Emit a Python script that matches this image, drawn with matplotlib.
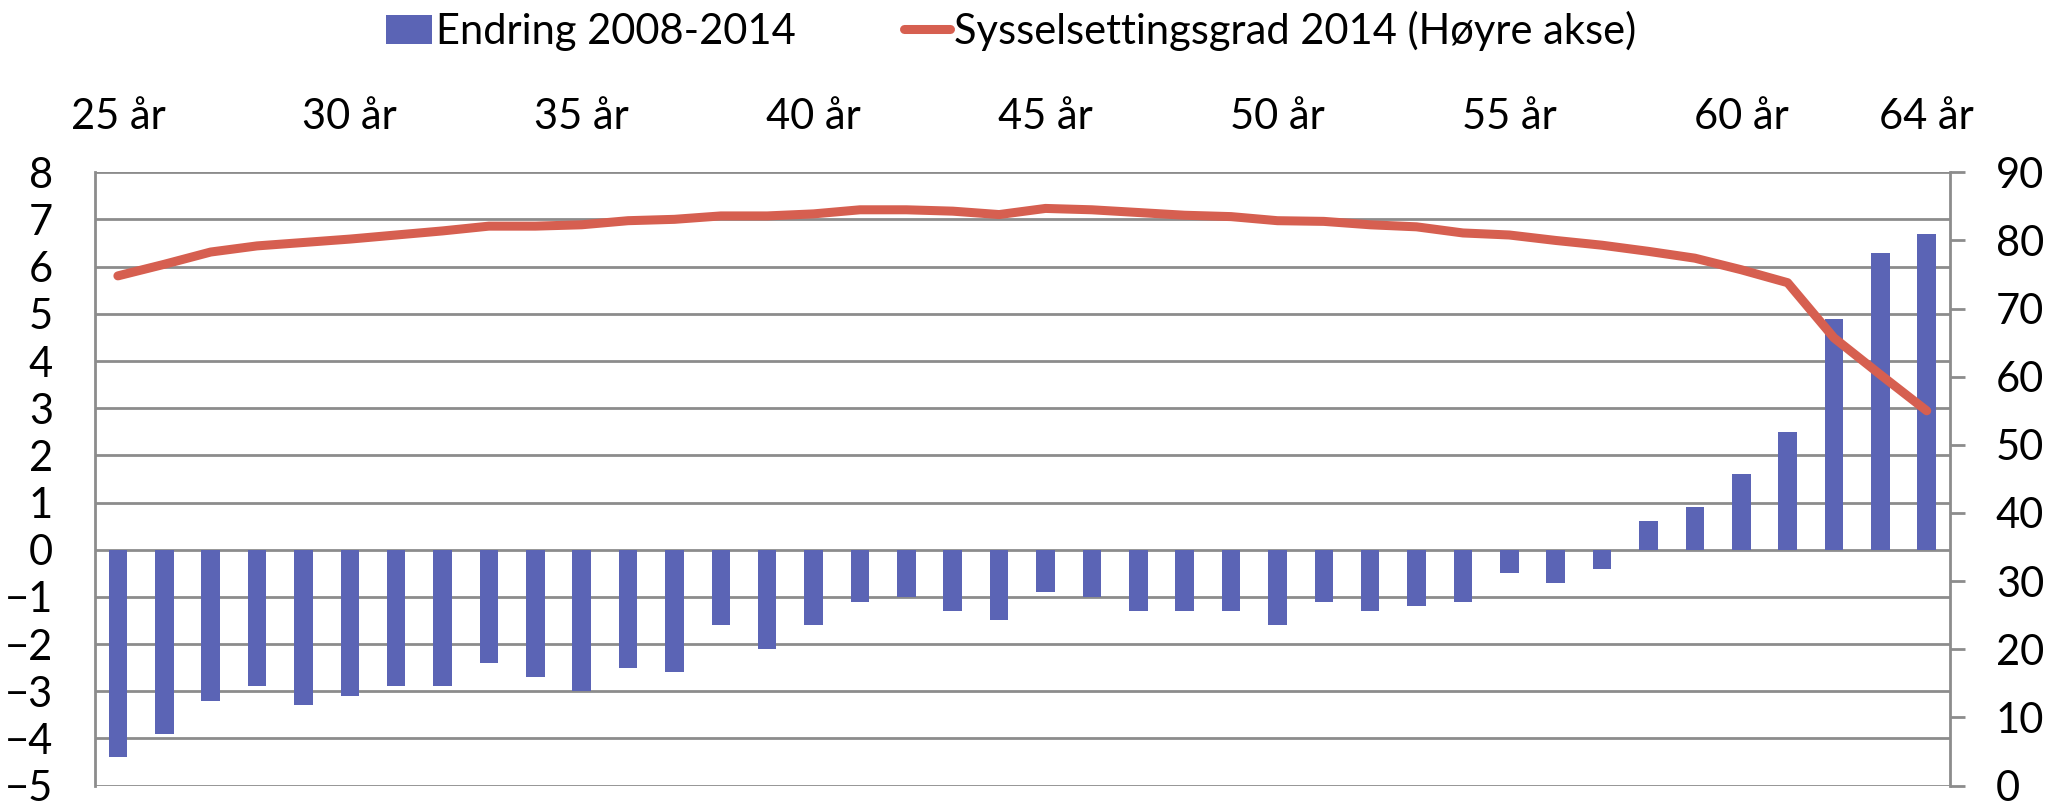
import matplotlib
matplotlib.use("Agg")
import matplotlib.pyplot as plt
import numpy as np

plt.rcParams['font.family'] = ['Lato', 'DejaVu Sans']

ages = list(range(25, 65))
endring = [-4.4, -3.9, -3.2, -2.9, -3.3, -3.1, -2.9, -2.9, -2.4, -2.7,
           -3.0, -2.5, -2.6, -1.6, -2.1, -1.6, -1.1, -1.0, -1.3, -1.5,
           -0.9, -1.0, -1.3, -1.3, -1.3, -1.6, -1.1, -1.3, -1.2, -1.1,
           -0.5, -0.7, -0.4, 0.6, 0.9, 1.6, 2.5, 4.9, 6.3, 6.7]
sysselsetting = [74.8, 76.5, 78.3, 79.2, 79.7, 80.2, 80.8, 81.4, 82.1, 82.1,
                 82.3, 82.9, 83.1, 83.6, 83.6, 83.9, 84.5, 84.5, 84.3, 83.8,
                 84.7, 84.5, 84.1, 83.7, 83.5, 82.9, 82.8, 82.3, 82.0, 81.1,
                 80.8, 80.0, 79.3, 78.4, 77.4, 75.7, 73.8, 65.7, 60.3, 55.0]
label_ages = [25, 30, 35, 40, 45, 50, 55, 60, 64]
tick_labels = [f"{a} år" for a in label_ages]

bar_color = '#5B64B5'
line_color = '#D65F50'
grid_color = '#8C8C8C'
fs = 30

fig = plt.figure(figsize=(20.63, 8.09), dpi=100)
ax = fig.add_axes([0.0459, 0.029, 0.8993, 0.758])
x = np.arange(len(ages))
ax.bar(x, endring, width=0.4, color=bar_color, zorder=3, label='Endring 2008-2014')
ax.set_ylim(-5, 8)
ax.set_yticks(range(-5, 9))
ax.set_xlim(-0.5, len(ages) - 0.5)
ax.yaxis.grid(True, color=grid_color, linewidth=2, zorder=0)
ax.set_axisbelow(True)
ax.xaxis.tick_top()
ax.set_xticks([ages.index(a) for a in label_ages])
ax.set_xticklabels(tick_labels)
ax.tick_params(axis='x', length=0, pad=26, labelsize=fs)
ax.tick_params(axis='y', length=0, pad=30, labelsize=fs)
for s in ['top', 'bottom']:
    ax.spines[s].set_visible(False)
ax.spines['left'].set_color(grid_color)
ax.spines['left'].set_linewidth(2)
ax.spines['right'].set_visible(False)

ax2 = ax.twinx()
ax2.plot(x, sysselsetting, color=line_color, linewidth=6.5, solid_capstyle='round',
         zorder=4, label='Sysselsettingsgrad 2014 (Høyre akse)')
ax2.set_ylim(0, 90)
ax2.set_yticks(range(0, 100, 10))
ax2.tick_params(axis='y', length=11, width=2, color=grid_color, pad=22, labelsize=fs)
for s in ['top', 'bottom', 'left']:
    ax2.spines[s].set_visible(False)
ax2.spines['right'].set_color(grid_color)
ax2.spines['right'].set_linewidth(2)

h1, l1 = ax.get_legend_handles_labels()
h2, l2 = ax2.get_legend_handles_labels()
fig.legend(h1 + h2, l1 + l2, loc='center', bbox_to_anchor=(0.49, 0.962), ncol=2,
           frameon=False, fontsize=fs, handlelength=1.1, handletextpad=0.1,
           columnspacing=2.6)

fig.savefig('out.png', dpi=100)
